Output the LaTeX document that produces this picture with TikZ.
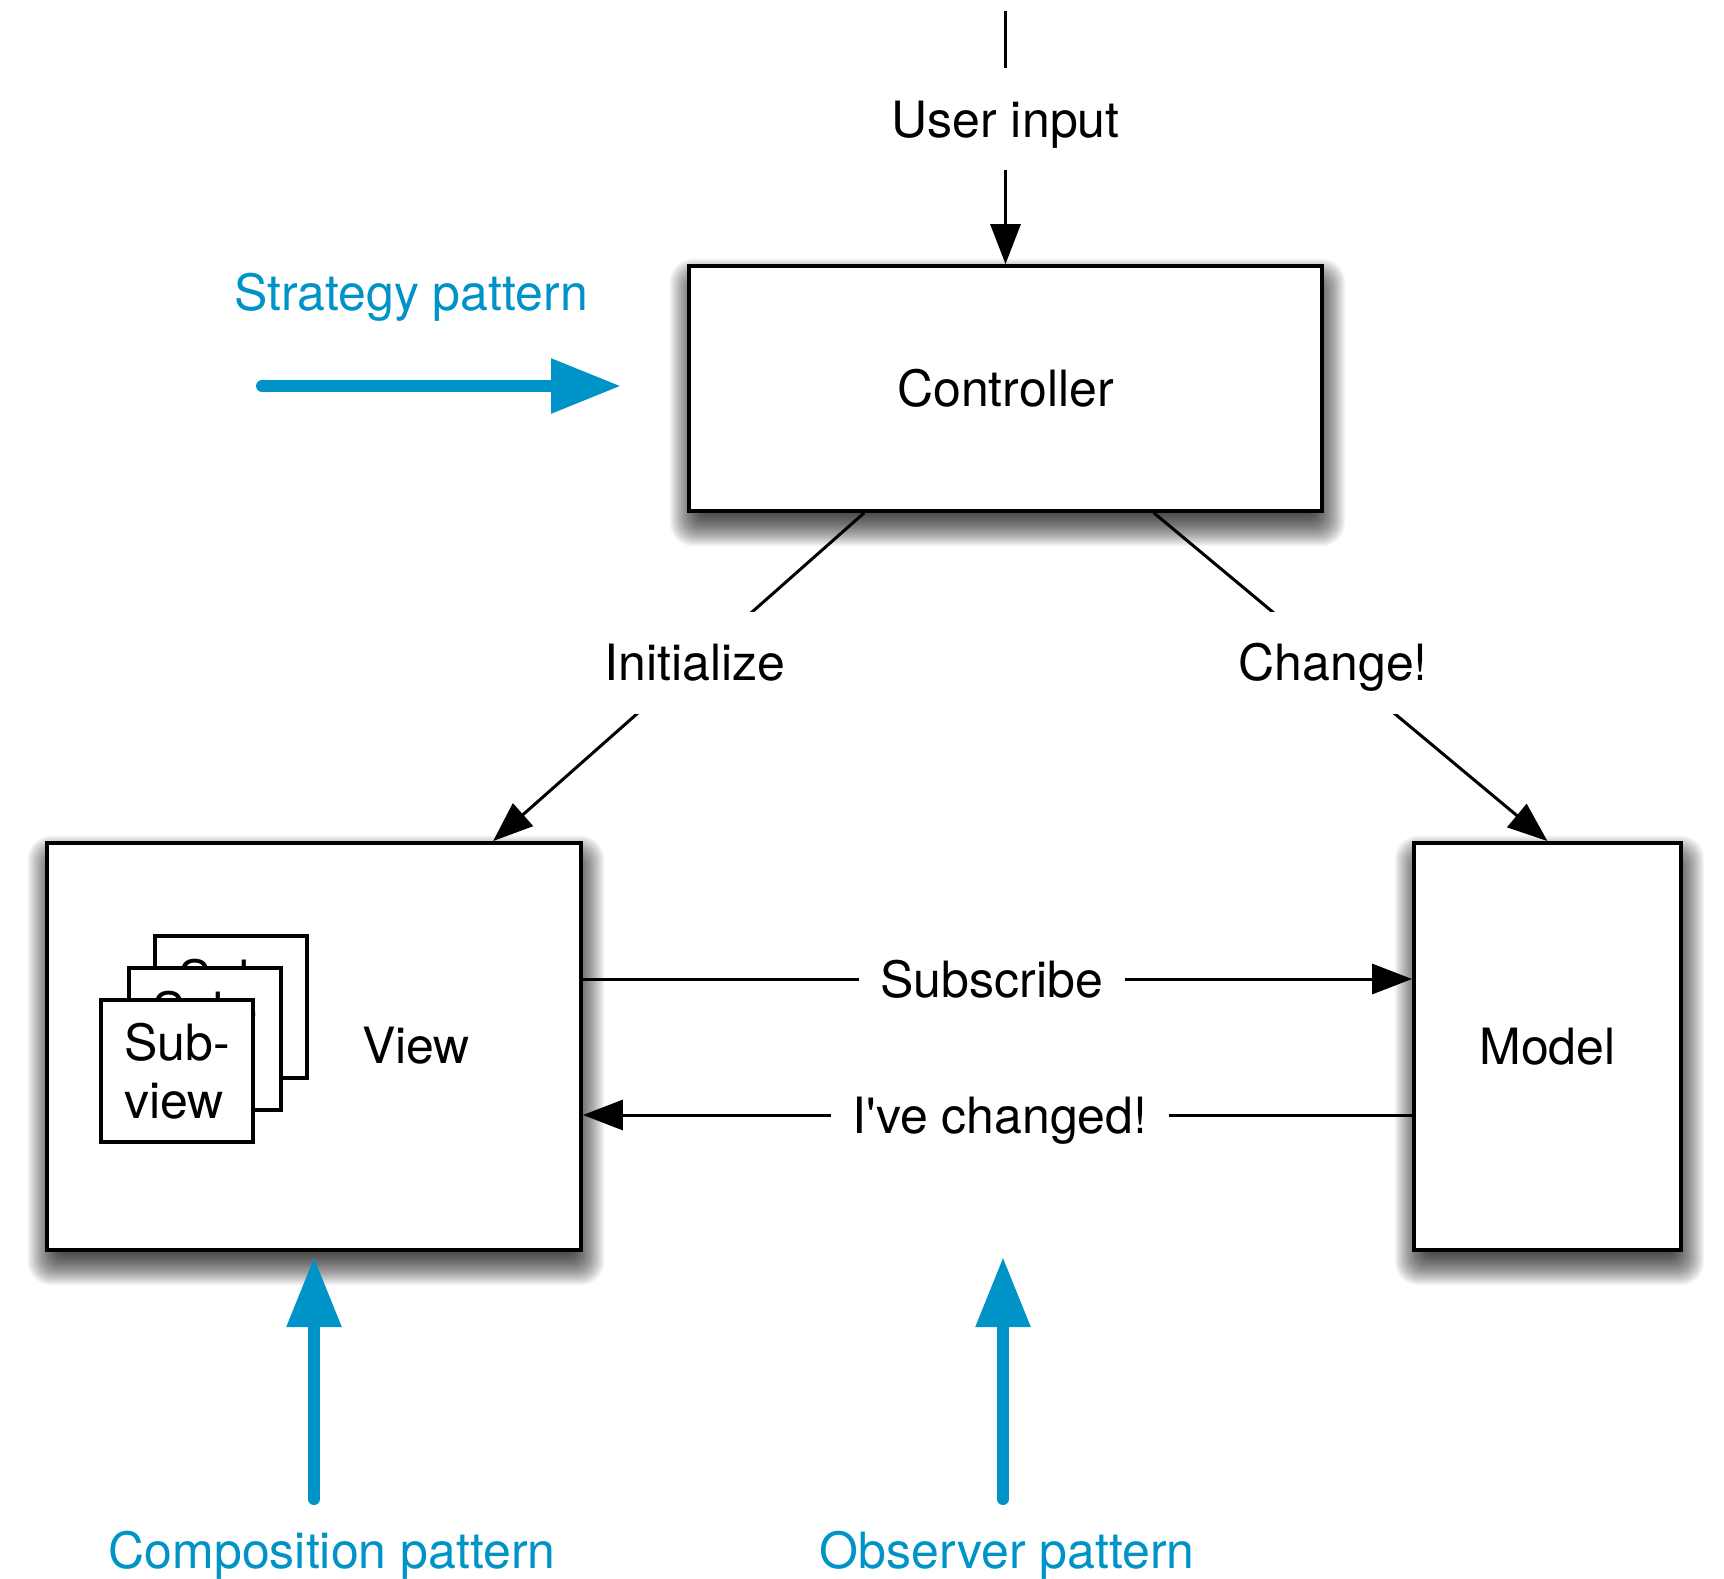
\documentclass[tikz,border=0pt]{standalone}
\usepackage{fontspec}
\setmainfont{TeX Gyre Heros}
\usetikzlibrary{arrows.meta}
\definecolor{pblue}{RGB}{0,147,199}
\pgfdeclarelayer{bg}
\pgfsetlayers{bg,main}
\newcommand\boxshadow[1]{%
  \foreach \i in {0,...,39}{%
    \pgfmathsetmacro\ee{-10+\i*0.5+0.25}%
    \pgfmathsetmacro\rc{max(0.1,((\ee)+10)*0.6)}%
    \pgfmathsetmacro\lx{1-(\ee)}%
    \pgfmathsetmacro\rx{1+(\ee)}%
    \pgfmathsetmacro\ty{(\ee)-7}%
    \pgfmathsetmacro\by{-(\ee)-7}%
    \fill[black,opacity=0.033,rounded corners=\rc pt]
      ([xshift=\lx pt,yshift=\ty pt]#1.north west) rectangle
      ([xshift=\rx pt,yshift=\by pt]#1.south east);
  }}
\begin{document}
\begin{tikzpicture}[x=0.5pt,y=-0.5pt,
  every node/.style={font=\fontsize{25}{29}\selectfont},
  box/.style={draw=black,line width=1.9pt,fill=white,inner sep=0pt},
  subbox/.style={draw=black,line width=1.6pt,fill=white,inner sep=0pt,minimum width=76pt,minimum height=71pt,align=left},
  conn/.style={line width=1.5pt,-{Triangle[length=20pt,width=15pt]}},
  lbl/.style={fill=white,minimum height=51pt,inner xsep=11pt,inner ysep=0pt,text height=18pt,text depth=0pt},
  txt/.style={inner sep=0pt,text height=18pt,text depth=0pt},
  bluearrow/.style={draw=pblue,line width=6pt,line cap=round,-{Triangle[length=35pt,width=26pt]}},
  bluetxt/.style={txt,text=pblue}]
\useasboundingbox (0,0) rectangle (1724,1579);

% boxes
\node[box,txt,minimum width=316.5pt,minimum height=122.5pt] (ctrl) at (1005.5,388.5) {Controller};
\node[box,minimum width=267pt,minimum height=203.5pt] (view) at (314,1046.5) {};
\node[subbox] (sv3) at (231,1007) {Sub-\\view};
\node[subbox] (sv2) at (205,1039) {Sub-\\view};
\node[subbox] (sv1) at (177,1071) {Sub-\\view};
\node[txt] (viewtext) at (416,1045) {View};
\node[box,txt,minimum width=133.5pt,minimum height=203.5pt] (model) at (1547.5,1046.5) {Model};

\begin{pgfonlayer}{bg}
  \fill[white] (0,0) rectangle (1724,1579);
  \boxshadow{ctrl}
  \boxshadow{view}
  \boxshadow{model}
\end{pgfonlayer}

% connectors
\coordinate (uitop) at (1005.5,11);
\draw[conn] (uitop) -- node[lbl,pos=0.427] (uilbl) {User input} (ctrl.north);
\draw[conn] ([xshift=88.5pt]ctrl.south west) -- node[lbl,pos=0.456] (initlbl) {Initialize} ([xshift=224pt]view.north west);
\draw[conn] ([xshift=-85pt]ctrl.south east) -- node[lbl,pos=0.456] (chglbl) {Change!} (model.north);
\draw[conn] ([yshift=33.75pt]view.east) -- node[lbl,pos=0.493] (sublbl) {Subscribe} ([yshift=33.75pt]model.west);
\draw[conn] ([yshift=-34.25pt]model.west) -- node[lbl,pos=0.497] (ivclbl) {I\textquotesingle ve changed!} ([yshift=-34.25pt]view.east);

% blue pattern arrows
\coordinate (s0) at (262,386);
\coordinate (s1) at (621,386);
\draw[bluearrow] (s0) -- (s1);
\coordinate (c0) at (314,1499);
\coordinate (c1) at (314,1257);
\draw[bluearrow] (c0) -- (c1);
\coordinate (o0) at (1003,1499);
\coordinate (o1) at (1003,1257);
\draw[bluearrow] (o0) -- (o1);

\node[bluetxt] (strat) at (411,292) {Strategy pattern};
\node[bluetxt] (comp) at (332,1550) {Composition pattern};
\node[bluetxt] (obs) at (1007,1550) {Observer pattern};
\end{tikzpicture}
\end{document}
